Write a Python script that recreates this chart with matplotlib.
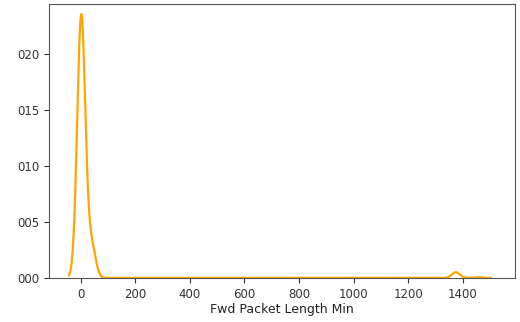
import numpy as np
import matplotlib
matplotlib.use("Agg")
import matplotlib.pyplot as plt

# Sample values of "Fwd Packet Length Min" and their relative counts
values = np.array([0, 8, 40, 1375, 1460], dtype=float)
counts = np.array([660, 200, 100, 18, 2], dtype=float)
bandwidth = 14.5
yticks = [0.0, 0.005, 0.010, 0.015, 0.020]
ytick_labels = ["000", "005", "010", "015", "020"]
xticks = [0, 200, 400, 600, 800, 1000, 1200, 1400]

# Gaussian KDE (seaborn-style, cut=3)
w = counts / counts.sum()
grid = np.linspace(values.min() - 3 * bandwidth, values.max() + 3 * bandwidth, 1000)
dens = np.zeros_like(grid)
for v, wi in zip(values, w):
    dens += wi * np.exp(-0.5 * ((grid - v) / bandwidth) ** 2) / (bandwidth * np.sqrt(2 * np.pi))

fig = plt.figure(figsize=(5.2, 3.22), dpi=100)
ax = fig.add_axes([0.094, 0.137, 0.896, 0.851])
ax.plot(grid, dens, color="orange", lw=1.6)
ax.set_xlim(-117, 1591)
ax.set_ylim(0, 0.0245)
ax.set_xticks(xticks)
ax.set_yticks(yticks)
ax.set_yticklabels(ytick_labels)
ax.tick_params(labelsize=8.5, colors="#333333")
ax.set_xlabel("Fwd Packet Length Min", fontsize=9, color="#222222", labelpad=2)
ax.set_ylabel("")
for s in ax.spines.values():
    s.set_color("#555555")
fig.savefig("out.png", dpi=100)
